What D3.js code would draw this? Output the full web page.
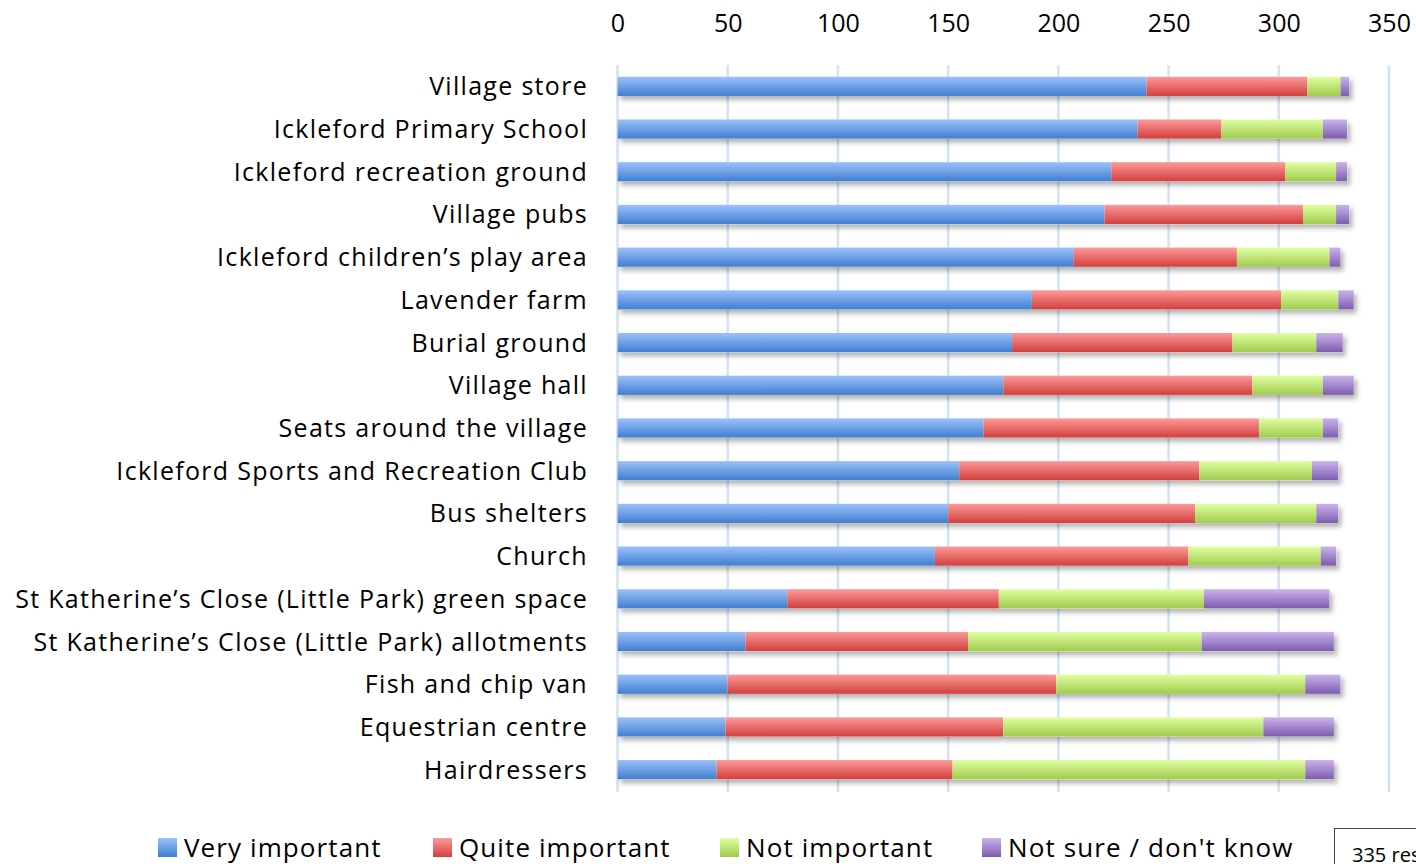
<!DOCTYPE html>
<html>
<head>
<meta charset="utf-8">
<script src="https://cdn.jsdelivr.net/npm/d3@7"></script>
<style>
  body { margin: 0; background: #fff; }
  text { font-family: "Open Sans", Lato, sans-serif; fill: #000; }
</style>
</head>
<body>
<script>
// categories, top to bottom
var categories = [
  "Village store",
  "Ickleford Primary School",
  "Ickleford recreation ground",
  "Village pubs",
  "Ickleford children\u2019s play area",
  "Lavender farm",
  "Burial ground",
  "Village hall",
  "Seats around the village",
  "Ickleford Sports and Recreation Club",
  "Bus shelters",
  "Church",
  "St Katherine\u2019s Close (Little Park) green space",
  "St Katherine\u2019s Close (Little Park) allotments",
  "Fish and chip van",
  "Equestrian centre",
  "Hairdressers"
];

var veryImportant  = [240, 236, 224, 221, 207, 188, 179, 175, 166, 155, 150, 144, 77, 58, 50, 49, 45];
var quiteImportant = [73, 38, 79, 90, 74, 113, 100, 113, 125, 109, 112, 115, 96, 101, 149, 126, 107];
var notImportant   = [15, 46, 23, 15, 42, 26, 38, 32, 29, 51, 55, 60, 93, 106, 113, 118, 160];
var notSure        = [4, 11, 5, 6, 5, 7, 12, 14, 7, 12, 10, 7, 57, 60, 16, 32, 13];

var seriesNames = ["Very important", "Quite important", "Not important", "Not sure / don't know"];
var xTicks = [0, 50, 100, 150, 200, 250, 300, 350];
var note = "335 responses";

var W = 1416, H = 864;

// colour pairs for each series gradient (top, bottom)
var grads = [
  ["#9cc1fa", "#3f7fcf"],
  ["#fc9a9a", "#d23f3d"],
  ["#e0ffa2", "#9fcb4c"],
  ["#cbb3ec", "#7d5cae"]
];

var svg = d3.select("body").append("svg")
    .attr("width", W)
    .attr("height", H);

var defs = svg.append("defs");
grads.forEach(function(g, i) {
  var lg = defs.append("linearGradient")
      .attr("id", "grad" + i)
      .attr("x1", 0).attr("y1", 0).attr("x2", 0).attr("y2", 1);
  lg.append("stop").attr("offset", "0%").attr("stop-color", g[0]);
  lg.append("stop").attr("offset", "100%").attr("stop-color", g[1]);
});

// soft shadow under the bars
var f = defs.append("filter").attr("id", "shadow")
    .attr("x", "-5%").attr("y", "-30%").attr("width", "110%").attr("height", "190%");
f.append("feDropShadow")
    .attr("dx", 3).attr("dy", 4).attr("stdDeviation", 2.5)
    .attr("flood-color", "#000").attr("flood-opacity", 0.3);

var x = d3.scaleLinear().domain([0, 350]).range([617.5, 1389]);
var y = d3.scaleBand().domain(categories)
    .range([65, 791])
    .paddingInner(0.55)
    .paddingOuter(0.275);

// gridlines
svg.append("g")
    .attr("class", "grid")
    .selectAll("line")
    .data(xTicks)
    .enter().append("line")
      .attr("x1", function(d) { return x(d); })
      .attr("x2", function(d) { return x(d); })
      .attr("y1", 65)
      .attr("y2", 792)
      .attr("stroke", "#d3e2f4")
      .attr("stroke-width", 2.5);

// top axis labels
var xAxis = d3.axisTop(x).tickValues(xTicks).tickSize(0).tickPadding(0);
var ax = svg.append("g")
    .attr("transform", "translate(0,32)")
    .call(xAxis);
ax.select(".domain").remove();
ax.selectAll("text")
    .attr("dy", 0)
    .style("font-family", "'Open Sans', Lato, sans-serif")
    .style("font-size", "25px")
    .attr("fill", "#000");

// stacked data
var rows = categories.map(function(c, i) {
  return { cat: c, vals: [veryImportant[i], quiteImportant[i], notImportant[i], notSure[i]] };
});
var stack = d3.stack().keys([0, 1, 2, 3]).value(function(d, k) { return d.vals[k]; });
var layers = stack(rows);

var barsG = svg.append("g");

// shadow layer: one rect per full bar
barsG.selectAll(".shadow")
    .data(rows)
    .enter().append("rect")
      .attr("x", x(0))
      .attr("y", function(d) { return y(d.cat); })
      .attr("width", function(d) { return x(d3.sum(d.vals)) - x(0); })
      .attr("height", y.bandwidth())
      .attr("fill", "#fff")
      .attr("filter", "url(#shadow)");

barsG.selectAll(".layer")
    .data(layers)
    .enter().append("g")
      .attr("fill", function(d, i) { return "url(#grad" + i + ")"; })
    .selectAll("rect")
    .data(function(d) { return d; })
    .enter().append("rect")
      .attr("x", function(d) { return x(d[0]); })
      .attr("y", function(d) { return y(d.data.cat); })
      .attr("width", function(d) { return x(d[1]) - x(d[0]); })
      .attr("height", y.bandwidth());

// category labels
svg.append("g")
    .selectAll("text")
    .data(categories)
    .enter().append("text")
      .attr("x", 588)
      .attr("y", function(d) { return y(d) + y.bandwidth() / 2; })
      .attr("dy", "0.36em")
      .attr("text-anchor", "end")
      .style("font-size", "25px")
      .style("letter-spacing", "1.3px")
      .text(function(d) { return d; });

// legend
var legendX = [158, 433, 720, 982];
var lg = svg.append("g");
var item = lg.selectAll("g")
    .data(seriesNames)
    .enter().append("g")
      .attr("transform", function(d, i) { return "translate(" + legendX[i] + ",838)"; });
item.append("rect")
    .attr("width", 19).attr("height", 19)
    .attr("fill", function(d, i) { return "url(#grad" + i + ")"; });
item.append("text")
    .attr("x", 26)
    .attr("y", 19)
    .style("font-size", "26px")
    .style("letter-spacing", "1.1px")
    .text(function(d) { return d; });

// note box, clipped at page edge
svg.append("rect")
    .attr("x", 1334.5).attr("y", 828.5)
    .attr("width", 140).attr("height", 60)
    .attr("fill", "#fff")
    .attr("stroke", "#444")
    .attr("stroke-width", 1);
svg.append("text")
    .attr("x", 1352).attr("y", 862)
    .style("font-size", "20px")
    .text(note);
</script>
</body>
</html>
